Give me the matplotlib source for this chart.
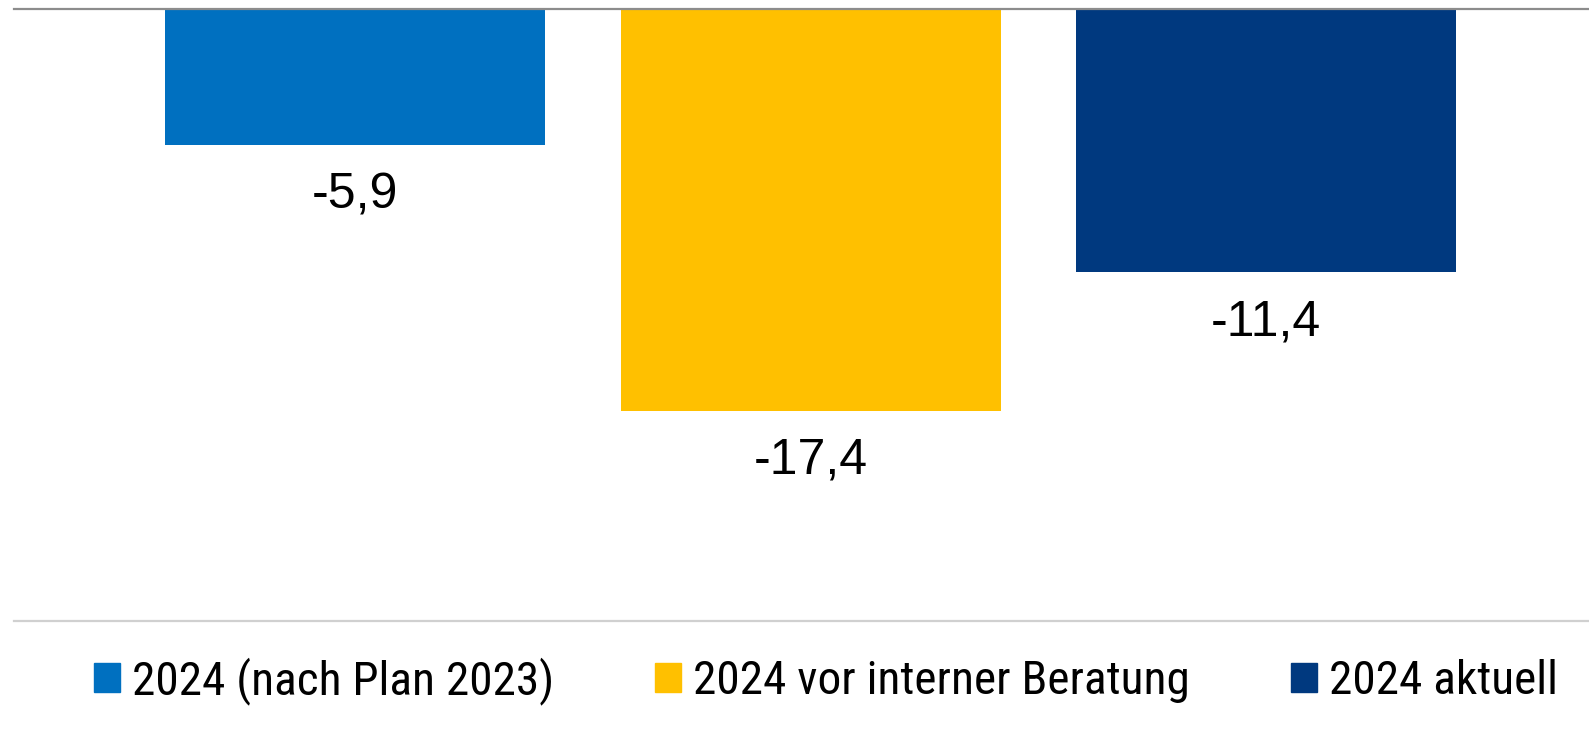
import matplotlib.pyplot as plt
from matplotlib.patches import Patch

categories = ['2024 (nach Plan 2023)', '2024 vor interner Beratung', '2024 aktuell']
values = [-5.9, -17.4, -11.4]
labels = ['-5,9', '-17,4', '-11,4']
colors = ['#0070C0', '#FFC000', '#00397F']

W, H = 1589, 734
fig = plt.figure(figsize=(W / 100, H / 100), dpi=100)
ax = fig.add_axes([14 / W, 1 - 621 / H, 1 - 14 / W, (621 - 9) / H])

x = range(len(values))
bars = ax.bar(x, values, width=0.835, color=colors)

for xi, v, lab in zip(x, values, labels):
    ax.annotate(lab, (xi, v), xytext=(0, -36), textcoords='offset points',
                ha='center', va='center', fontsize=36,
                family=['Liberation Sans', 'DejaVu Sans'])

ax.set_xlim(-0.75, 2.71)
ax.set_ylim(-26.5, 0)
ax.set_xticks([])
ax.set_yticks([])
for s in ['left', 'right']:
    ax.spines[s].set_visible(False)
ax.spines['top'].set_color('#8c8c8c')
ax.spines['top'].set_linewidth(1.6)
ax.spines['bottom'].set_color('#d0d0d0')
ax.spines['bottom'].set_linewidth(1.6)

handles = [Patch(color=c, label=l) for c, l in zip(colors, categories)]
fig.legend(handles=handles, loc='center', bbox_to_anchor=(826 / W, 1 - 681 / H), ncol=3,
           frameon=False, handlelength=0.55, handleheight=0.55, handletextpad=0.25,
           columnspacing=2.15, borderaxespad=0,
           prop={'family': ['Roboto Condensed', 'DejaVu Sans'], 'size': 34})

fig.savefig('out.png', dpi=100)
